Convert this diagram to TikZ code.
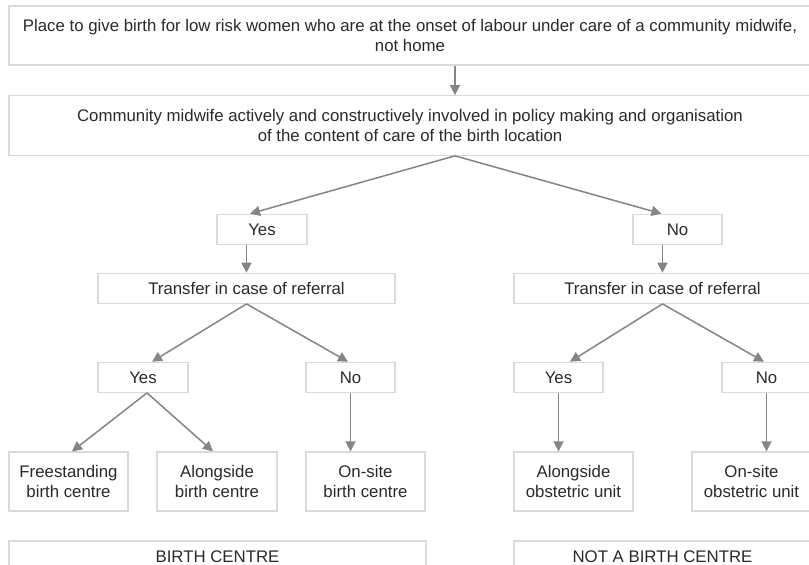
\documentclass[tikz,border=0pt]{standalone}
\usepackage{fontspec}
\setmainfont{Liberation Sans}
\usetikzlibrary{arrows.meta}
\definecolor{boxgray}{HTML}{DADADA}
\definecolor{arrgray}{HTML}{858585}
\definecolor{txtgray}{HTML}{2A2A2A}
\tikzset{
  box/.style={draw=boxgray, line width=1.2pt, text=txtgray, align=center,
    inner sep=0pt, font=\fontsize{16.8}{19.8}\selectfont, anchor=center},
  arr/.style={draw=arrgray, line width=1.5pt,
    -{Triangle[length=10pt,width=10pt]}, shorten >=0pt},
}
\begin{document}
\begin{tikzpicture}[x=1pt,y=-1pt]
\useasboundingbox[fill=white] (0,0) rectangle (809,565);
% level 0/1
\node[box, minimum width=802pt, minimum height=59pt] (top) at (410,35.5)
  {Place to give birth for low risk women who are at the onset of labour under care of a community midwife,\\not home};
\node[box, minimum width=802pt, minimum height=59.5pt] (mid) at (410,125.5)
  {Community midwife actively and constructively involved in policy making and organisation\\of the content of care of the birth location};
% level 2
\node[box, minimum width=90pt, minimum height=30pt] (yes1) at (262,229.3) {Yes};
\node[box, minimum width=89pt, minimum height=30pt] (no1) at (677.5,229.3) {No};
\node[box, minimum width=297pt, minimum height=30pt] (tr1) at (246.5,288.3) {Transfer in case of referral};
\node[box, minimum width=297pt, minimum height=30pt] (tr2) at (662.5,288.3) {Transfer in case of referral};
% level 3
\node[box, minimum width=90pt, minimum height=30pt] (yes2) at (143,377.3) {Yes};
\node[box, minimum width=89pt, minimum height=30pt] (no2) at (350.5,377.3) {No};
\node[box, minimum width=89pt, minimum height=30pt] (yes3) at (558.5,377.3) {Yes};
\node[box, minimum width=89pt, minimum height=30pt] (no3) at (766.5,377.3) {No};
% level 4
\node[box, minimum width=119pt, minimum height=59pt] (fs) at (68.5,481.5) {Freestanding\\birth centre};
\node[box, minimum width=120pt, minimum height=59pt] (al) at (217,481.5) {Alongside\\birth centre};
\node[box, minimum width=119pt, minimum height=59pt] (os) at (365.5,481.5) {On-site\\birth centre};
\node[box, minimum width=119pt, minimum height=59pt] (ao) at (573.5,481.5) {Alongside\\obstetric unit};
\node[box, minimum width=119pt, minimum height=59pt] (oo) at (751.5,481.5) {On-site\\obstetric unit};
% bottom
\node[box, minimum width=417pt, minimum height=31pt] (bc) at (217.5,556.5) {BIRTH CENTRE};
\node[box, minimum width=297pt, minimum height=31pt] (nbc) at (662.5,556.5) {NOT A BIRTH CENTRE};
% arrows
\draw[arr] ([xshift=45pt]top.south) -- ([xshift=45pt]mid.north);
\draw[arr] ([xshift=45pt]mid.south) -- ([xshift=-12pt]yes1.north);
\draw[arr] ([xshift=45pt]mid.south) -- ([xshift=-16pt]no1.north);
\draw[arr] (yes1.south -| tr1.north) -- (tr1.north);
\draw[arr] (no1.south -| tr2.north) -- (tr2.north);
\draw[arr] (tr1.south) -- ([xshift=9pt]yes2.north);
\draw[arr] (tr1.south) -- ([xshift=-2.5pt]no2.north);
\draw[arr] (tr2.south) -- ([xshift=11.5pt]yes3.north);
\draw[arr] (tr2.south) -- ([xshift=-2.5pt]no3.north);
\draw[arr] ([xshift=4pt]yes2.south) -- ([xshift=3.5pt]fs.north);
\draw[arr] ([xshift=4pt]yes2.south) -- ([xshift=-4pt]al.north);
\draw[arr] (no2.south) -- (no2.south |- os.north);
\draw[arr] (yes3.south) -- (yes3.south |- ao.north);
\draw[arr] (no3.south) -- (no3.south |- oo.north);
\end{tikzpicture}
\end{document}
